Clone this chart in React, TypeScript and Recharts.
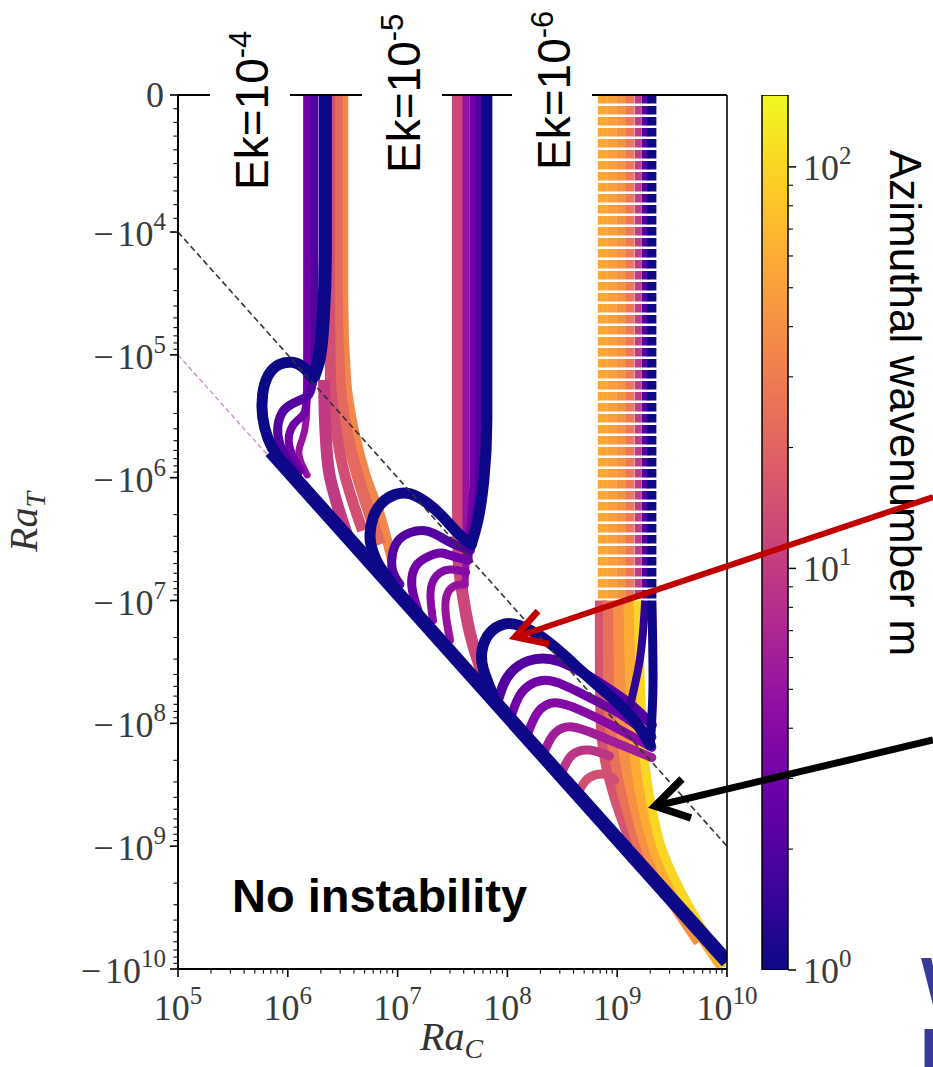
import React from 'react';
import { ComposedChart, Line, XAxis, YAxis, ReferenceLine, BarChart, Bar } from 'recharts';

type Pt = [number, number]; // [Ra_C, Ra_T]

// ---------------- axis ticks ----------------
const raCMajorTicks = [1e5, 1e6, 1e7, 1e8, 1e9, 1e10];
const raTMajorTicks = [0, -1e4, -1e5, -1e6, -1e7, -1e8, -1e9, -1e10];
const raTLinearMinorTicks = [-1e3, -2e3, -3e3, -4e3, -5e3, -6e3, -7e3, -8e3, -9e3];
const minorMultipliers = [2, 3, 4, 5, 6, 7, 8, 9];
const raCMinorDecades = [1e5, 1e6, 1e7, 1e8, 1e9];
const raTMinorDecades = [1e4, 1e5, 1e6, 1e7, 1e8, 1e9];
const mMajorTicks = [1, 10, 100];
const mMinorDecades = [1, 10];
const mRange: [number, number] = [1, 151];
const ekExponents = ['-4', '-5', '-6'];

// ---------------- guide lines ----------------
const guideRaTEqRaC: Pt[] = [[1e5, -1e5], [1e10, -1e10]];
const guideRaTEqRaCOver10: Pt[] = [[1e5, -1e4], [1e10, -1e9]];
const envelopeM1: Pt[] = [[7.0e5, -6.1e5], [1.0e10, -8.7e9]];

// ---------------- Ek = 1e-4 ----------------
const ek4M1Column: Pt[] = [[2.2e6, 0], [2.2e6, -1.4e4], [2.1e6, -5.2e4], [1.92e6, -1.1e5], [1.7e6, -1.55e5]];
const ek4M1Loop: Pt[] = [[1.7e6, -1.55e5], [1.38e6, -1.26e5], [1.1e6, -1.15e5], [8.3e5, -1.2e5], [6.6e5, -1.48e5], [5.9e5, -2.1e5], [5.9e5, -3.2e5], [6.6e5, -4.8e5], [8.0e5, -6.6e5], [1.05e6, -8.7e5]];
const ek4M2Column: Pt[] = [[1.75e6, 0], [1.75e6, -1.3e5]];
const ek4M2Loop: Pt[] = [[1.75e6, -1.3e5], [1.6e6, -2.0e5], [1.35e6, -2.3e5], [1.1e6, -2.5e5], [9.0e5, -2.9e5], [8.1e5, -3.9e5], [8.5e5, -5.4e5], [1.0e6, -7.2e5], [1.23e6, -9.2e5]];
const ek4M3Column: Pt[] = [[1.5e6, 0], [1.5e6, -1.9e5]];
const ek4M3Loop: Pt[] = [[1.5e6, -1.9e5], [1.43e6, -2.9e5], [1.23e6, -3.4e5], [1.07e6, -4.0e5], [1.02e6, -5.1e5], [1.12e6, -6.8e5], [1.32e6, -8.7e5]];
const ek4M5Loop: Pt[] = [[1.5e6, -1.6e5], [1.47e6, -3.4e5], [1.35e6, -4.9e5], [1.26e6, -6.2e5], [1.35e6, -7.9e5], [1.5e6, -9.5e5]];
const ek4M10Tail: Pt[] = [[2.14e6, -1.6e5], [2.2e6, -4.1e5], [2.4e6, -9.5e5], [2.9e6, -1.8e6], [3.5e6, -3.0e6]];
const ek4M14Tail: Pt[] = [[2.4e6, 0], [2.4e6, -3.6e4], [2.45e6, -1.6e5], [2.75e6, -4.1e5], [3.3e6, -9.5e5], [4.1e6, -1.8e6], [4.8e6, -2.7e6]];
const ek4M22Tail: Pt[] = [[2.8e6, 0], [2.8e6, -3.6e4], [2.95e6, -1.6e5], [3.4e6, -4.1e5], [4.3e6, -9.5e5], [5.6e6, -2.0e6], [6.9e6, -3.5e6]];
const ek4M35Tail: Pt[] = [[3.2e6, 0], [3.2e6, -3.6e4], [3.4e6, -1.6e5], [4.0e6, -4.1e5], [5.1e6, -9.5e5], [6.9e6, -2.0e6], [8.9e6, -4.7e6]];

// ---------------- Ek = 1e-5 ----------------
const ek5M1Column: Pt[] = [[6.5e7, 0], [6.5e7, -3.4e5], [6.1e7, -1.05e6], [5.4e7, -2.2e6], [4.7e7, -3.5e6]];
const ek5M1Loop: Pt[] = [[4.7e7, -3.5e6], [3.5e7, -2.8e6], [2.6e7, -2.1e6], [1.85e7, -1.6e6], [1.3e7, -1.35e6], [9.5e6, -1.37e6], [7.2e6, -1.6e6], [6.0e6, -2.1e6], [5.6e6, -3.0e6], [6.0e6, -4.1e6], [6.9e6, -5.3e6], [8.5e6, -6.8e6]];
const ek5M2Column: Pt[] = [[5.6e7, 0], [5.6e7, -8.7e5], [5.1e7, -2.2e6], [4.6e7, -3.9e6]];
const ek5M2Loop: Pt[] = [[4.6e7, -3.9e6], [3.3e7, -3.5e6], [2.4e7, -3.0e6], [1.78e7, -2.7e6], [1.3e7, -2.8e6], [1.0e7, -3.3e6], [8.9e6, -4.4e6], [9.1e6, -5.9e6], [1.05e7, -7.4e6]];
const ek5M3Column: Pt[] = [[4.9e7, 0], [4.9e7, -1.05e6], [4.6e7, -2.7e6], [4.4e7, -4.7e6]];
const ek5M3Loop: Pt[] = [[4.4e7, -4.7e6], [3.3e7, -4.4e6], [2.5e7, -4.1e6], [2.0e7, -4.3e6], [1.53e7, -5.0e6], [1.35e7, -6.5e6], [1.38e7, -8.7e6], [1.53e7, -1.2e7]];
const ek5M4Loop: Pt[] = [[4.2e7, -5.9e6], [3.1e7, -5.6e6], [2.4e7, -6.0e6], [2.05e7, -7.4e6], [2.0e7, -1.0e7], [2.1e7, -1.45e7]];
const ek5M5Column: Pt[] = [[4.2e7, 0], [4.2e7, -1.5e6], [4.2e7, -4.7e6], [4.1e7, -7.4e6]];
const ek5M5Loop: Pt[] = [[4.1e7, -7.4e6], [3.3e7, -7.6e6], [2.8e7, -9.1e6], [2.75e7, -1.3e7], [3.0e7, -2.1e7]];
const ek5M12Tail: Pt[] = [[3.55e7, 0], [3.55e7, -1.5e6], [3.6e7, -4.7e6], [4.0e7, -1.0e7], [4.6e7, -1.9e7], [5.4e7, -3.1e7], [6.9e7, -5.4e7]];

// ---------------- Ek = 1e-6 ----------------
const ek6ColumnRaC = [7.4e8, 9.0e8, 1.08e9, 1.3e9, 1.55e9, 1.8e9, 2.07e9];
const ek6ColumnM = [55, 50, 42, 28, 10, 2, 1];
const ek6ColumnBottomRaT = -1.0e7;
const ek6M1Down: Pt[] = [[2.07e9, -1.0e7], [2.12e9, -4.5e7], [2.0e9, -1.5e8]];
const ek6M2Down: Pt[] = [[1.8e9, -1.0e7], [1.6e9, -3.1e7], [1.3e9, -7.4e7]];
const ek6M1Loop: Pt[] = [[2.0e9, -1.5e8], [1.48e9, -9.8e7], [9.5e8, -6.5e7], [5.6e8, -4.3e7], [3.3e8, -2.8e7], [2.0e8, -1.95e7], [1.3e8, -1.6e7], [9.5e7, -1.55e7], [6.9e7, -1.84e7], [5.9e7, -2.5e7], [6.0e7, -3.55e7], [7.4e7, -5.9e7]];
const ek6M2Arc: Pt[] = [[8.2e7, -6.5e7], [1.0e8, -4.2e7], [1.55e8, -3.1e7], [2.9e8, -3.1e7], [5.9e8, -4.3e7], [1.26e9, -6.8e7], [2.07e9, -1.03e8]];
const ek6M3Arc: Pt[] = [[1.1e8, -8.4e7], [1.35e8, -5.6e7], [2.0e8, -4.5e7], [3.3e8, -4.9e7], [6.9e8, -6.8e7], [1.18e9, -8.9e7], [2.07e9, -1.29e8]];
const ek6M4Arc: Pt[] = [[1.55e8, -1.18e8], [1.9e8, -8.1e7], [2.7e8, -6.8e7], [4.6e8, -7.8e7], [9.5e8, -1.07e8], [2.07e9, -1.57e8]];
const ek6M6Arc: Pt[] = [[2.2e8, -1.65e8], [2.7e8, -1.2e8], [3.9e8, -1.07e8], [6.7e8, -1.25e8], [1.3e9, -1.6e8], [2.07e9, -1.9e8]];
const ek6M9Arc: Pt[] = [[3.2e8, -2.4e8], [3.9e8, -1.8e8], [5.6e8, -1.65e8], [8.5e8, -1.85e8]];
const ek6M14Arc: Pt[] = [[4.6e8, -3.4e8], [5.6e8, -2.75e8], [7.7e8, -2.6e8], [9.5e8, -2.9e8]];
const ek6M15Tail: Pt[] = [[7.1e8, -1.0e7], [7.1e8, -3.1e7], [7.2e8, -9.4e7], [7.9e8, -2.0e8], [9.8e8, -4.2e8], [1.39e9, -9.8e8]];
const ek6M25Tail: Pt[] = [[8.4e8, -1.0e7], [8.4e8, -3.1e7], [8.5e8, -6.5e7], [9.5e8, -1.8e8], [1.18e9, -4.2e8], [1.65e9, -1.07e9], [2.78e9, -2.5e9]];
const ek6M40Tail: Pt[] = [[1.04e9, -1.0e7], [1.07e9, -6.5e7], [1.18e9, -1.8e8], [1.42e9, -4.2e8], [1.9e9, -1.07e9], [3.09e9, -2.65e9], [5.6e9, -6.0e9]];
const ek6M60Tail: Pt[] = [[1.28e9, -1.0e7], [1.35e9, -6.5e7], [1.45e9, -1.8e8], [1.68e9, -4.2e8], [2.2e9, -1.07e9], [3.5e9, -2.65e9], [6.3e9, -6.0e9], [8.9e9, -9.5e9]];
const ek6M100Tail: Pt[] = [[1.55e9, -1.0e7], [1.65e9, -6.5e7], [1.75e9, -1.8e8], [2.0e9, -4.2e8], [2.57e9, -1.07e9], [4.1e9, -2.65e9], [7.0e9, -6.0e9], [9.5e9, -9.5e9]];

// ---------------- colour map (plasma) ----------------
const PLASMA = ['#0d0887', '#41049d', '#6a00a8', '#8f0da4', '#b12a90', '#cc4778', '#e16462', '#f2844b', '#fca636', '#fcce25', '#f0f921'];
function hexToRgb(h: string) {
  const n = parseInt(h.slice(1), 16);
  return [(n >> 16) & 255, (n >> 8) & 255, n & 255];
}
function plasma(f: number) {
  const t = Math.max(0, Math.min(1, f)) * (PLASMA.length - 1);
  const i = Math.min(PLASMA.length - 2, Math.floor(t));
  const r = t - i;
  const a = hexToRgb(PLASMA[i]);
  const b = hexToRgb(PLASMA[i + 1]);
  const c = a.map((v, k) => Math.round(v + (b[k] - v) * r));
  return `rgb(${c[0]},${c[1]},${c[2]})`;
}
const mColor = (m: number) => plasma(Math.log10(m) / Math.log10(mRange[1]));

// ---------------- scales (symlog for Ra_T, log for Ra_C) ----------------
const LIN_THRESH = 1e4;
const LIN_SCALE = 137 / 122.8;
const symT = (v: number) => {
  const a = Math.abs(v);
  const u = a <= LIN_THRESH ? (LIN_SCALE * a) / LIN_THRESH : LIN_SCALE + Math.log10(a / LIN_THRESH);
  return v <= 0 ? -u : u;
};
const prep = (pts: Pt[]) => pts.map(([c, t]) => ({ x: Math.log10(c), y: symT(t) }));

type Curve = 'linear' | 'natural' | 'monotoneY';
type S = { pts: Pt[]; m?: number; color?: string; w: number; curve: Curve; dash?: string; cap?: 'butt' | 'round' };

const ek6ColumnWidths = [10, 9, 9, 9, 7, 7, 9];
const ek6Columns: S[] = ek6ColumnRaC.map((c, i) => ({
  pts: [[c, 0], [c, ek6ColumnBottomRaT]] as Pt[],
  m: ek6ColumnM[i],
  w: ek6ColumnWidths[i],
  curve: 'linear' as Curve,
  dash: '8.5 2.5',
}));

const series: S[] = [
  { pts: guideRaTEqRaC, color: '#c98bd0', w: 1.3, curve: 'linear', dash: '5 3' },
  // Ek = 1e-4
  { pts: ek4M35Tail, m: 35, w: 10, curve: 'monotoneY' },
  { pts: ek4M22Tail, m: 22, w: 12, curve: 'monotoneY' },
  { pts: ek4M14Tail, m: 14, w: 11, curve: 'monotoneY' },
  { pts: ek4M10Tail, m: 10, w: 12, curve: 'monotoneY' },
  { pts: ek4M5Loop, m: 5, w: 7, curve: 'natural', cap: 'round' },
  { pts: ek4M3Column, m: 3, w: 8, curve: 'linear' },
  { pts: ek4M3Loop, m: 3, w: 8, curve: 'natural', cap: 'round' },
  { pts: ek4M2Column, m: 2, w: 8, curve: 'linear' },
  { pts: ek4M2Loop, m: 2, w: 9, curve: 'natural', cap: 'round' },
  { pts: ek4M1Column, m: 1, w: 13, curve: 'monotoneY' },
  { pts: ek4M1Loop, m: 1, w: 11, curve: 'natural', cap: 'round' },
  // Ek = 1e-5
  { pts: ek5M12Tail, m: 12, w: 12, curve: 'monotoneY' },
  { pts: ek5M5Column, m: 5, w: 7, curve: 'monotoneY' },
  { pts: ek5M5Loop, m: 5, w: 8, curve: 'natural', cap: 'round' },
  { pts: ek5M4Loop, m: 4, w: 8, curve: 'natural', cap: 'round' },
  { pts: ek5M3Column, m: 3, w: 8, curve: 'monotoneY' },
  { pts: ek5M3Loop, m: 3, w: 9, curve: 'natural', cap: 'round' },
  { pts: ek5M2Column, m: 2, w: 8, curve: 'monotoneY' },
  { pts: ek5M2Loop, m: 2, w: 9, curve: 'natural', cap: 'round' },
  { pts: ek5M1Column, m: 1, w: 11, curve: 'monotoneY' },
  { pts: ek5M1Loop, m: 1, w: 11, curve: 'natural', cap: 'round' },
  // Ek = 1e-6
  { pts: ek6M15Tail, m: 15, w: 12, curve: 'monotoneY' },
  { pts: ek6M25Tail, m: 25, w: 12, curve: 'monotoneY' },
  { pts: ek6M40Tail, m: 40, w: 12, curve: 'monotoneY' },
  { pts: ek6M60Tail, m: 60, w: 11, curve: 'monotoneY' },
  { pts: ek6M100Tail, m: 100, w: 9, curve: 'monotoneY' },
  ...ek6Columns,
  { pts: ek6M14Arc, m: 14, w: 9, curve: 'natural', cap: 'round' },
  { pts: ek6M9Arc, m: 9, w: 9, curve: 'natural', cap: 'round' },
  { pts: ek6M6Arc, m: 6, w: 9, curve: 'natural', cap: 'round' },
  { pts: ek6M4Arc, m: 4, w: 9, curve: 'natural', cap: 'round' },
  { pts: ek6M3Arc, m: 3, w: 9, curve: 'natural', cap: 'round' },
  { pts: ek6M2Arc, m: 2, w: 10, curve: 'natural', cap: 'round' },
  { pts: ek6M2Down, m: 1.4, w: 8, curve: 'monotoneY' },
  { pts: ek6M1Down, m: 1, w: 9, curve: 'monotoneY' },
  { pts: ek6M1Loop, m: 1, w: 11, curve: 'natural', cap: 'round' },
  // lower envelope (m = 1) and Ra_T = -Ra_C/10 guide
  { pts: envelopeM1, m: 1, w: 14, curve: 'linear' },
  { pts: guideRaTEqRaCOver10, color: '#333333', w: 1.6, curve: 'linear', dash: '6 3.5' },
];

// ---------------- ticks ----------------
const xTicks = [...raCMajorTicks, ...raCMinorDecades.flatMap((d) => minorMultipliers.map((k) => k * d))].map(Math.log10);
const yMajorT = raTMajorTicks.map(symT);
const yTicks = [...raTMajorTicks, ...raTLinearMinorTicks, ...raTMinorDecades.flatMap((d) => minorMultipliers.map((k) => -k * d))].map(symT);
const cbTicks = [...mMajorTicks, ...mMinorDecades.flatMap((d) => minorMultipliers.map((k) => k * d))]
  .filter((m) => m <= mRange[1])
  .map(Math.log10);

const serif = '"Liberation Serif", "Times New Roman", serif';
const sans = '"Liberation Sans", Arial, Helvetica, sans-serif';
const TICK_FS = 36;
const SUP_FS = 25;
const TICK_COLOR = '#3a3a3a';
const isInt = (v: number) => Math.abs(v - Math.round(v)) < 1e-9;

function YTick(props: any) {
  const { x, y, payload } = props;
  const v: number = payload.value;
  const idx = yMajorT.findIndex((t) => Math.abs(t - v) < 1e-9);
  const major = idx >= 0;
  const raw = major ? raTMajorTicks[idx] : 0;
  return (
    <g>
      <line x1={x - (major ? 8 : 4.5)} x2={x} y1={y} y2={y} stroke="#000" strokeWidth={major ? 1.6 : 1.1} />
      {major &&
        (raw === 0 ? (
          <text x={x - 14} y={y + 12} textAnchor="end" fontFamily={serif} fontSize={TICK_FS} fill={TICK_COLOR}>
            0
          </text>
        ) : (
          <text x={x - 12} y={y + 14} textAnchor="end" fontFamily={serif} fontSize={TICK_FS} fill={TICK_COLOR}>
            −
            <tspan dx={4}>10</tspan>
            <tspan dy={-16} fontSize={SUP_FS}>
              {Math.round(Math.log10(-raw))}
            </tspan>
          </text>
        ))}
    </g>
  );
}

function XTick(props: any) {
  const { x, y, payload } = props;
  const v: number = payload.value;
  const major = isInt(v);
  return (
    <g>
      <line x1={x} x2={x} y1={y} y2={y + (major ? 8 : 4.5)} stroke="#000" strokeWidth={major ? 1.6 : 1.1} />
      {major && (
        <text x={x} y={y + 51} textAnchor="middle" fontFamily={serif} fontSize={TICK_FS} fill={TICK_COLOR}>
          10
          <tspan dy={-16} fontSize={SUP_FS}>
            {Math.round(v)}
          </tspan>
        </text>
      )}
    </g>
  );
}

function CbTick(props: any) {
  const { x, y, payload } = props;
  const v: number = payload.value;
  const major = isInt(v);
  return (
    <g>
      <line x1={x} x2={x + (major ? 8 : 5)} y1={y} y2={y} stroke="#000" strokeWidth={major ? 1.5 : 1.1} />
      {major && (
        <text x={x + 15} y={y + 13} textAnchor="start" fontFamily={serif} fontSize={TICK_FS} fill={TICK_COLOR}>
          10
          <tspan dy={-16} fontSize={SUP_FS}>
            {Math.round(v)}
          </tspan>
        </text>
      )}
    </g>
  );
}

const colorbarData = [{ name: 'm', top: Math.log10(mRange[1]) }];

const ekLabelPos = [
  { bx: 268, by: 190 },
  { bx: 420, by: 173 },
  { bx: 570, by: 170 },
];

export default function App() {
  return (
    <div style={{ position: 'absolute', left: 0, top: 0, width: 933, height: 1067, background: '#fff', overflow: 'hidden' }}>
      <div style={{ position: 'absolute', left: 0, top: 0 }}>
        <ComposedChart width={933} height={1067} margin={{ top: 95, right: 206, bottom: 0, left: 0 }}>
          <XAxis
            type="number"
            dataKey="x"
            domain={[5, 10]}
            ticks={xTicks}
            interval={0}
            tick={<XTick />}
            tickLine={false}
            tickSize={0}
            tickMargin={0}
            height={98}
            axisLine={{ stroke: '#000', strokeWidth: 2 }}
            allowDataOverflow
          />
          <YAxis
            type="number"
            domain={[symT(-1e10), 0]}
            ticks={yTicks}
            interval={0}
            tick={<YTick />}
            tickLine={false}
            tickSize={0}
            tickMargin={0}
            width={178}
            axisLine={{ stroke: '#000', strokeWidth: 2 }}
            allowDataOverflow
          />
          {series.map((s, i) => (
            <Line
              key={i}
              data={prep(s.pts)}
              dataKey="y"
              type={s.curve}
              stroke={s.color ?? mColor(s.m ?? 1)}
              strokeWidth={s.w}
              strokeDasharray={s.dash}
              strokeLinecap={s.cap ?? 'butt'}
              strokeLinejoin="round"
              dot={false}
              activeDot={false}
              legendType="none"
              isAnimationActive={false}
            />
          ))}
          <ReferenceLine y={0} stroke="#000" strokeWidth={1.8} />
          <ReferenceLine x={10} stroke="#000" strokeWidth={1.6} />
        </ComposedChart>
      </div>

      <div style={{ position: 'absolute', left: 740, top: 0 }}>
        <BarChart width={160} height={1067} data={colorbarData} margin={{ top: 95, right: 0, bottom: 97, left: 22 }} barCategoryGap={0}>
          <defs>
            <linearGradient id="plasmaGrad" x1="0" y1="1" x2="0" y2="0">
              {PLASMA.map((c, i) => (
                <stop key={i} offset={i / (PLASMA.length - 1)} stopColor={c} />
              ))}
            </linearGradient>
          </defs>
          <XAxis dataKey="name" hide />
          <YAxis
            orientation="right"
            type="number"
            domain={[0, Math.log10(mRange[1])]}
            ticks={cbTicks}
            interval={0}
            tick={<CbTick />}
            tickLine={false}
            axisLine={false}
            tickSize={0}
            tickMargin={0}
            width={112}
            allowDataOverflow
          />
          <Bar dataKey="top" fill="url(#plasmaGrad)" stroke="#000" strokeWidth={1.5} isAnimationActive={false} />
        </BarChart>
      </div>

      <svg width={933} height={1067} style={{ position: 'absolute', left: 0, top: 0, pointerEvents: 'none' }}>
        {ekLabelPos.map((p, i) => (
          <g key={i}>
            <rect x={p.bx - 58} y={85} width={80} height={20} fill="#fff" />
            <text transform={`translate(${p.bx},${p.by}) rotate(-90)`} fontFamily={sans} fontSize={46} fill="#000">
              Ek=10
              <tspan dy={-17} fontSize={31}>
                {ekExponents[i]}
              </tspan>
            </text>
          </g>
        ))}
        <text x={232} y={912} fontFamily={sans} fontWeight="bold" fontSize={47} fill="#000">
          No instability
        </text>
        <text transform="translate(890,150) rotate(90)" fontFamily={sans} fontSize={44} fill="#000">
          Azimuthal wavenumber m
        </text>
        <text transform="translate(37,552) rotate(-90)" fontFamily={serif} fontStyle="italic" fontSize={40} fill="#333">
          Ra
          <tspan dy={8} fontSize={28}>
            T
          </tspan>
        </text>
        <text x={420} y={1050} fontFamily={serif} fontStyle="italic" fontSize={40} fill="#333">
          Ra
          <tspan dy={8} fontSize={28}>
            C
          </tspan>
        </text>
        {/* red arrow */}
        <line x1={933} y1={497} x2={519} y2={636} stroke="#c00000" strokeWidth={6} />
        <polyline points="538,611 515,637 549,644" fill="none" stroke="#c00000" strokeWidth={6.5} strokeLinejoin="miter" />
        {/* black arrow */}
        <line x1={933} y1={740} x2={660} y2={805} stroke="#000" strokeWidth={7} />
        <polyline points="682,779 655,806 691,818" fill="none" stroke="#000" strokeWidth={7.5} strokeLinejoin="miter" />
        <text x={921} y={1007} fontFamily={sans} fontWeight="bold" fontSize={70} fill="#3a3a9c">
          W
        </text>
        <text x={920} y={1076} fontFamily={sans} fontWeight="bold" fontSize={68} fill="#3a3a9c">
          I
        </text>
      </svg>
    </div>
  );
}
